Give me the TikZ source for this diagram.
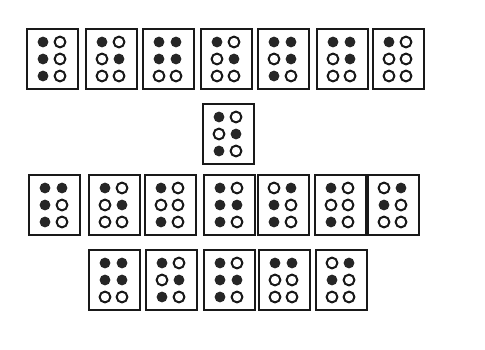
\documentclass[tikz,border=0pt]{standalone}
\usepackage{tikz}

% one braille cell: name, north west corner, six dots (F filled, O open)
\newcommand{\brcell}[3]{%
  \node[cellbox] (#1) at (#2) {};
  \begin{scope}[shift={(#1.north west)}]
    \foreach \d [count=\i from 0] in {#3} {
      \pgfmathtruncatemacro{\cc}{mod(\i,2)}
      \pgfmathtruncatemacro{\rr}{int(\i/2)}
      \path[dot\d] (17+17*\cc, 14+17*\rr) circle[radius=5.4pt];
    }
  \end{scope}}

\begin{document}
\begin{tikzpicture}[
  x=1pt, y=-1pt,
  cellbox/.style={draw=black!90, line width=2pt, anchor=north west,
                  minimum width=51pt, minimum height=60pt, inner sep=0pt},
  dotF/.style={fill=black!85},
  dotO/.style={draw=black!90, line width=2pt, fill=white},
]
\fill[white] (0,0) rectangle (485,349);
\useasboundingbox (0,0) rectangle (485,349);

% top row
\brcell{a1}{26,28}{F,O,F,O,F,O}
\brcell{a2}{85,28}{F,O,O,F,O,O}
\brcell{a3}{142,28}{F,F,F,F,O,O}
\brcell{a4}{200,28}{F,O,O,F,O,O}
\brcell{a5}{257,28}{F,F,O,F,F,O}
\brcell{a6}{316,28}{F,F,O,F,O,O}
\brcell{a7}{372,28}{F,O,O,O,O,O}

% single cell
\brcell{m1}{202,103}{F,O,O,F,F,O}

% third row
\brcell{b1}{28,174}{F,F,F,O,F,O}
\brcell{b2}{88,174}{F,O,O,F,O,O}
\brcell{b3}{144,174}{F,O,O,O,F,O}
\brcell{b4}{203,174}{F,O,F,F,F,O}
\brcell{b5}{257,174}{O,F,F,O,F,O}
\brcell{b6}{314,174}{F,O,O,O,F,O}
\brcell{b7}{367,174}{O,F,F,O,O,O}

% bottom row
\brcell{c1}{88,249}{F,F,F,F,O,O}
\brcell{c2}{145,249}{F,O,O,F,F,O}
\brcell{c3}{203,249}{F,O,F,F,F,O}
\brcell{c4}{258,249}{F,F,O,O,O,O}
\brcell{c5}{315,249}{O,F,F,O,O,O}
\end{tikzpicture}
\end{document}
